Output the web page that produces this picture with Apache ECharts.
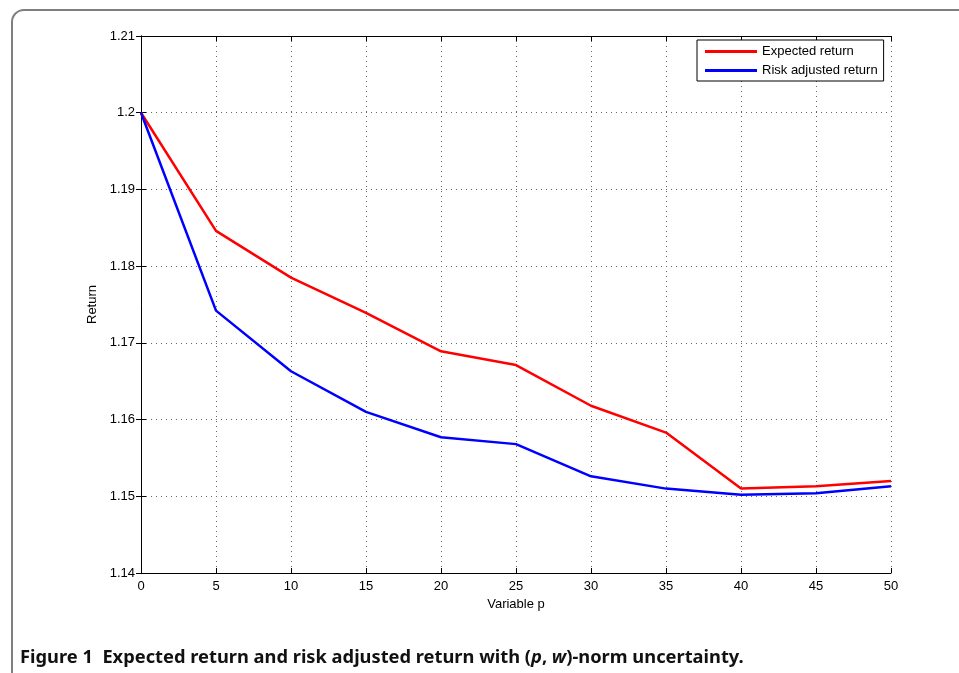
<!DOCTYPE html>
<html><head><meta charset="utf-8">
<script src="https://cdn.jsdelivr.net/npm/echarts@6/dist/echarts.min.js"></script>
<style>html,body{margin:0;padding:0;background:#fff}#c{width:959px;height:673px}</style>
</head><body><div id="c"></div>
<script>
const xValues = [0, 5, 10, 15, 20, 25, 30, 35, 40, 45, 50];
const expectedReturn = [1.2, 1.1846, 1.1785, 1.1739, 1.1689, 1.1671, 1.1618, 1.1583, 1.1510, 1.1513, 1.1520];
const riskAdjustedReturn = [1.2, 1.1742, 1.1663, 1.1610, 1.1577, 1.1568, 1.1526, 1.1510, 1.1502, 1.1504, 1.1513];
const seriesNames = ['Expected return', 'Risk adjusted return'];

const chart = echarts.init(document.getElementById('c'));
const F = 'Liberation Sans';
const pairs = a => xValues.map((x, i) => [x, a[i]]);
const fmtY = v => String(parseFloat(v.toFixed(2)));
const axisLine = {show: true, lineStyle: {color: '#000', width: 1}};
const tick = {show: true, inside: true, length: 5, lineStyle: {color: '#000'}};
chart.setOption({
  animation: false,
  backgroundColor: '#fff',
  graphic: [{
    type: 'rect', shape: {x: 12, y: 10, width: 1000, height: 700, r: 12},
    style: {fill: 'none', stroke: '#7f7f7f', lineWidth: 2}, z: -10
  }, {
    type: 'text', left: 20, top: 649,
    style: {
      text: '{b|Figure 1  Expected return and risk adjusted return with (}{i|p}{b|, }{i|w}{b|)-norm uncertainty.}',
      rich: {
        b: {fontFamily: 'Noto Sans', fontWeight: 'bold', fontSize: 18.3, fill: '#111'},
        i: {fontFamily: 'Noto Sans', fontWeight: 'bold', fontStyle: 'italic', fontSize: 18.3, fill: '#111'}
      }
    }
  }],
  grid: {left: 141, right: 68, top: 36, bottom: 100},
  legend: {
    data: seriesNames, orient: 'vertical', left: 697, top: 40,
    backgroundColor: '#fff', borderColor: '#000', borderWidth: 1,
    padding: [4, 6, 3, 8], itemGap: 4, itemWidth: 52, itemHeight: 3, icon: 'rect',
    textStyle: {fontFamily: F, fontSize: 13, color: '#000', lineHeight: 15}
  },
  xAxis: [{
    type: 'value', min: 0, max: 50, interval: 5,
    name: 'Variable p', nameLocation: 'middle', nameGap: 25,
    nameTextStyle: {fontFamily: F, fontSize: 13, color: '#000'},
    axisLine, axisTick: tick,
    axisLabel: {fontFamily: F, fontSize: 13, color: '#000', margin: 7},
    splitLine: {show: true, lineStyle: {color: '#666', type: [1, 4], width: 1}}
  }, {
    type: 'value', min: 0, max: 50, interval: 5, position: 'top',
    axisLine, axisTick: tick, axisLabel: {show: false}, splitLine: {show: false}
  }],
  yAxis: [{
    type: 'value', min: 1.14, max: 1.21, interval: 0.01,
    name: 'Return', nameLocation: 'middle', nameGap: 38, nameRotate: 90,
    nameTextStyle: {fontFamily: F, fontSize: 13, color: '#000'},
    axisLine, axisTick: tick,
    axisLabel: {fontFamily: F, fontSize: 13, color: '#000', margin: 6, formatter: fmtY},
    splitLine: {show: true, lineStyle: {color: '#666', type: [1, 4], width: 1}}
  }, {
    type: 'value', min: 1.14, max: 1.21, interval: 0.01, position: 'right',
    axisLine, axisTick: tick, axisLabel: {show: false}, splitLine: {show: false}
  }],
  series: [{
    name: seriesNames[0], type: 'line', data: pairs(expectedReturn),
    showSymbol: false, symbol: 'none', color: '#ff0000',
    lineStyle: {color: '#ff0000', width: 2.5}
  }, {
    name: seriesNames[1], type: 'line', data: pairs(riskAdjustedReturn),
    showSymbol: false, symbol: 'none', color: '#0000ff',
    lineStyle: {color: '#0000ff', width: 2.5}
  }]
});
</script></body></html>
